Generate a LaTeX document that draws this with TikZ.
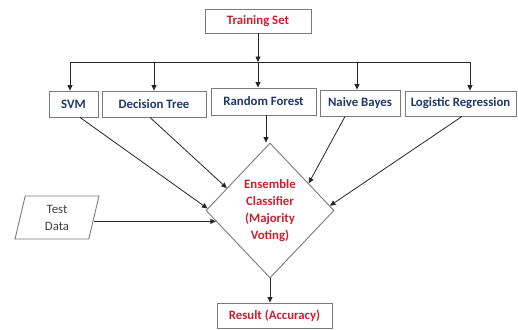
\documentclass[tikz,border=0pt]{standalone}
\usepackage{fontspec}
\setmainfont{Carlito}
\usetikzlibrary{arrows.meta,shapes.geometric,calc}
\definecolor{ered}{HTML}{C8202E}
\definecolor{enavy}{HTML}{1F3864}
\definecolor{egray}{HTML}{7A7A7A}
\definecolor{edark}{HTML}{262626}
\begin{document}
\begin{tikzpicture}[x=1pt,y=-1pt,
  box/.style={draw=egray, line width=0.9pt, inner sep=0pt, font=\bfseries\fontsize{12.8}{14}\selectfont, text=enavy},
  redbox/.style={box, text=ered},
  conn/.style={draw=edark, line width=0.8pt, -{Triangle[length=5.5pt,width=5pt]}},
  wire/.style={draw=edark, line width=0.8pt}]
\useasboundingbox (0,0) rectangle (518,329);
\node[redbox, minimum width=106pt, minimum height=24pt] (ts) at (258,21) {Training Set};
\node[box, minimum width=49pt, minimum height=26pt] (svm) at (73.5,104) {SVM};
\node[box, minimum width=104pt, minimum height=26pt] (dt) at (154,104) {Decision Tree};
\node[box, minimum width=105pt, minimum height=27pt] (rf) at (263.5,101.5) {Random Forest};
\node[box, minimum width=80pt, minimum height=26pt] (nb) at (360,103) {Naive Bayes};
\node[box, minimum width=111pt, minimum height=25pt] (lr) at (460.5,103.5) {Logistic Regression};
\node[draw=egray, line width=0.9pt, diamond, minimum width=128pt, minimum height=135pt, inner sep=0pt,
  text=ered, align=center, font=\bfseries\fontsize{12.8}{16.8}\selectfont] (dia) at (270,210.5)
  {Ensemble\\Classifier\\(Majority\\Voting)};
\node[draw=egray, line width=0.9pt, trapezium, trapezium left angle=68, trapezium right angle=112,
  minimum width=84pt, minimum height=43pt, trapezium stretches body, inner sep=0pt, align=center,
  text=black!75, font=\fontsize{12.8}{17}\selectfont] (td) at (57,217.5) {Test\\Data};
\node[redbox, minimum width=115pt, minimum height=25pt] (res) at (274.5,315.5) {Result (Accuracy)};
% bus
\coordinate (bL) at (70,62);
\coordinate (b2) at (154,62);
\coordinate (b4) at (357,62);
\coordinate (bR) at (470,62);
\coordinate (bM) at (ts.south |- bL);
\draw[conn] (ts.south) -- (bM);
\draw[wire] (bL) -- (bR);
\draw[conn] (bL) -- (bL |- svm.north);
\draw[conn] (b2) -- (b2 |- dt.north);
\draw[conn] (bM) -- (bM |- rf.north);
\draw[conn] (b4) -- (b4 |- nb.north);
\draw[conn] (bR) -- (bR |- lr.north);
% to diamond
\coordinate (eSVM) at ($(dia.west)!0.03!(dia.north)$);
\coordinate (eDT) at ($(dia.west)!0.33!(dia.north)$);
\coordinate (eNB) at ($(dia.north)!0.6!(dia.east)$);
\coordinate (eLR) at ($(dia.north)!0.93!(dia.east)$);
\coordinate (eTD) at ($(dia.west)!0.16!(dia.south)$);
\draw[conn] ([xshift=6.5pt]svm.south) -- (eSVM);
\draw[conn] ([xshift=-4pt]dt.south) -- (eDT);
\draw[conn] ([xshift=2.5pt]rf.south) -- ([xshift=2.5pt]rf.south |- dia.north);
\draw[conn] ([xshift=-15pt]nb.south) -- (eNB);
\draw[conn] ([xshift=1.5pt]lr.south) -- (eLR);
\draw[conn] (td.east |- eTD) -- (eTD);
\draw[conn] (dia.south) -- (dia.south |- res.north);
\end{tikzpicture}
\end{document}
